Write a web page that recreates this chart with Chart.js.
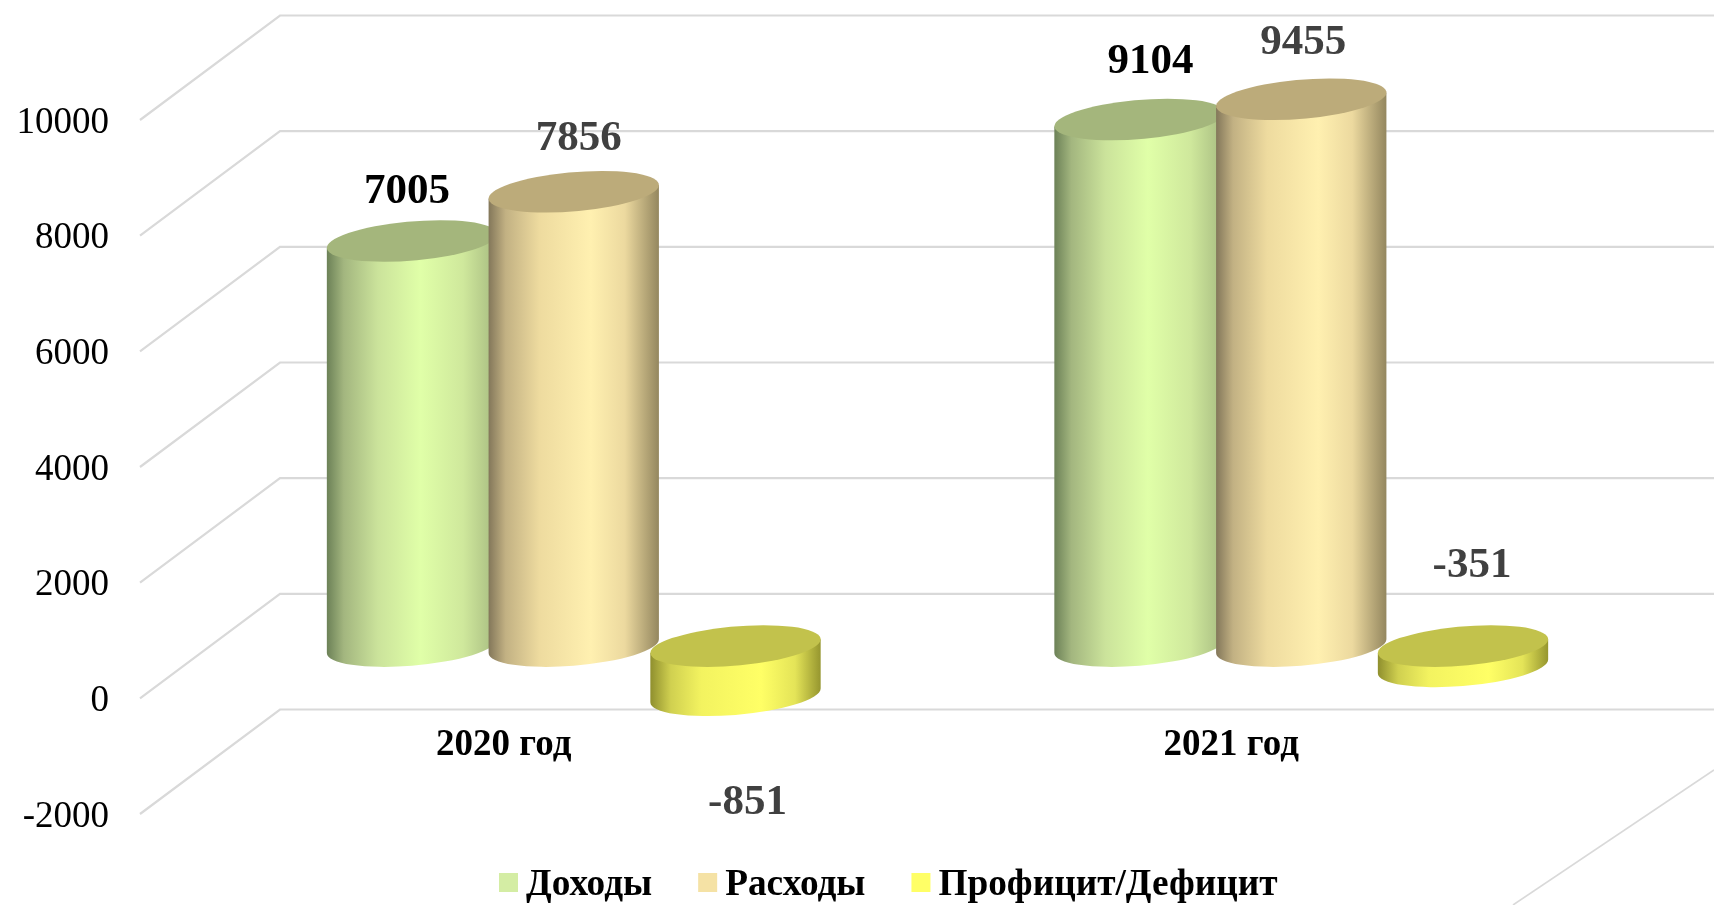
<!DOCTYPE html>
<html lang="ru">
<head>
<meta charset="UTF-8" />
<title>Доходы и расходы</title>
<script src="https://cdn.jsdelivr.net/npm/chart.js"></script>
<style>
  html, body { margin: 0; padding: 0; background: #fff; }
  canvas { display: block; }
</style>
</head>
<body>
<canvas id="chart" width="1714" height="905"></canvas>
<script>
const years = ['2020 год', '2021 год'];
const incomeValues = [7005, 9104];
const expenseValues = [7856, 9455];
const balanceValues = [-851, -351];
const yTicks = [-2000, 0, 2000, 4000, 6000, 8000, 10000];

// wall depth of the fake 3D box, in px
const depthX = 140;
const depthY = 104.5;
const radiusY = 20.8;
const skewX = 28;
const font = 'Liberation Serif';

const looks = [
  { top: '#a4b67c', legend: '#d4eda4', label: '#000000',
    stops: [[0, '#6c8157'], [0.1, '#a3b67f'], [0.3, '#cbe39b'], [0.55, '#e0ffa8'], [0.8, '#cfe89c'], [1, '#a6ba80']] },
  { top: '#bcab7a', legend: '#f5e2a5', label: '#404040',
    stops: [[0, '#83775a'], [0.1, '#c2b183'], [0.3, '#eedb9f'], [0.6, '#fff0b0'], [0.8, '#ecd99f'], [1, '#94875f']] },
  { top: '#c2c24c', legend: '#ffff66', label: '#404040',
    stops: [[0, '#8f8f2e'], [0.12, '#d0d050'], [0.3, '#f3f360'], [0.65, '#ffff66'], [0.85, '#e4e458'], [1, '#96962f']] }
];

// label nudges from the end of each cylinder, [dx, dy] per dataset and year
const labelNudges = [
  [[-5, -49], [11, -58]],
  [[5, -53], [2, -56]],
  [[12, 108], [9, -100]]
];

function ellipsePath(ctx, cx, cy, halfW, from, to) {
  const a = Math.sqrt(halfW * halfW - skewX * skewX);
  ctx.save();
  ctx.transform(a, 0, skewX, -radiusY, cx, cy);
  ctx.arc(0, 0, 1, from, to);
  ctx.restore();
}

function drawCylinder(ctx, cx, y0, y1, halfW, look) {
  const a = Math.sqrt(halfW * halfW - skewX * skewX);
  const t = Math.atan2(skewX, a);
  const topY = Math.min(y0, y1);
  const botY = Math.max(y0, y1);
  const tipY = radiusY * skewX / halfW;

  const grad = ctx.createLinearGradient(cx - halfW, 0, cx + halfW, 0);
  look.stops.forEach(s => grad.addColorStop(s[0], s[1]));
  ctx.beginPath();
  ctx.moveTo(cx - halfW, topY + tipY);
  ellipsePath(ctx, cx, botY, halfW, t + Math.PI, t + 2 * Math.PI);
  ctx.lineTo(cx + halfW, topY - tipY);
  ctx.closePath();
  ctx.fillStyle = grad;
  ctx.fill();

  ctx.beginPath();
  ellipsePath(ctx, cx, topY, halfW, 0, 2 * Math.PI);
  ctx.fillStyle = look.top;
  ctx.fill();
}

const box3d = {
  id: 'box3d',
  beforeDatasetsDraw(chart) {
    const { ctx, chartArea, scales: { y } } = chart;
    ctx.save();
    ctx.strokeStyle = '#d9d9d9';
    ctx.lineWidth = 2.2;
    yTicks.forEach(v => {
      const py = y.getPixelForValue(v);
      ctx.beginPath();
      ctx.moveTo(chartArea.left, py);
      ctx.lineTo(chartArea.left + depthX, py - depthY);
      ctx.lineTo(chartArea.right + depthX + 4, py - depthY);
      ctx.stroke();
    });
    // floor edge at the bottom right corner
    const floorY = y.getPixelForValue(yTicks[0]);
    ctx.lineWidth = 1.6;
    ctx.beginPath();
    ctx.moveTo(chartArea.right - 82, floorY + 91);
    ctx.lineTo(chartArea.right + 119, floorY - 44);
    ctx.stroke();

    const zero = y.getPixelForValue(0) - depthY / 2;
    chart.data.datasets.forEach((ds, i) => {
      chart.getDatasetMeta(i).data.forEach(bar => {
        const halfW = bar.width * 1.053 / 2;
        drawCylinder(ctx, bar.x + depthX / 2, zero, bar.y - depthY / 2, halfW, looks[i]);
      });
    });
    ctx.restore();
  },
  afterDatasetsDraw(chart) {
    const { ctx } = chart;
    ctx.save();
    ctx.textAlign = 'center';
    ctx.textBaseline = 'middle';
    ctx.font = 'bold 43px "' + font + '"';
    chart.data.datasets.forEach((ds, i) => {
      chart.getDatasetMeta(i).data.forEach((bar, j) => {
        const n = labelNudges[i][j];
        ctx.fillStyle = looks[i].label;
        ctx.fillText(String(ds.data[j]), bar.x + depthX / 2 + n[0], bar.y - depthY / 2 + n[1]);
      });
    });
    // legend: squares sit closer to the text than the built-in one allows
    ctx.textAlign = 'left';
    ctx.font = 'bold 37.3px "' + font + '"';
    let x = 499;
    chart.data.datasets.forEach((ds, i) => {
      ctx.fillStyle = looks[i].legend;
      ctx.fillRect(x, 873, 19, 19);
      x += 27;
      ctx.fillStyle = '#000000';
      ctx.fillText(ds.label, x, 885);
      x += ctx.measureText(ds.label).width + 46;
    });
    ctx.restore();
  }
};

new Chart(document.getElementById('chart'), {
  type: 'bar',
  data: {
    labels: years,
    datasets: [
      { label: 'Доходы', data: incomeValues, backgroundColor: 'transparent' },
      { label: 'Расходы', data: expenseValues, backgroundColor: 'transparent' },
      { label: 'Профицит/Дефицит', data: balanceValues, backgroundColor: 'transparent' }
    ]
  },
  options: {
    responsive: false,
    animation: false,
    layout: { padding: { top: 120, bottom: 91, left: 0, right: 119 } },
    datasets: { bar: { categoryPercentage: 0.667, barPercentage: 1 } },
    plugins: { legend: { display: false }, tooltip: { enabled: false } },
    scales: {
      x: {
        position: { y: 0 },
        grid: { display: false, drawTicks: false },
        border: { display: false },
        ticks: { padding: 25, color: '#000000', font: { family: font, size: 37, weight: 'bold' } }
      },
      y: {
        min: -2000,
        max: 10000,
        afterFit(scale) { scale.width = 140; },
        grid: { display: false, drawTicks: false },
        border: { display: false },
        ticks: {
          stepSize: 2000,
          padding: 31,
          labelOffset: 3,
          color: '#000000',
          font: { family: font, size: 37 },
          callback: v => String(v)
        }
      }
    }
  },
  plugins: [box3d]
});
</script>
</body>
</html>
